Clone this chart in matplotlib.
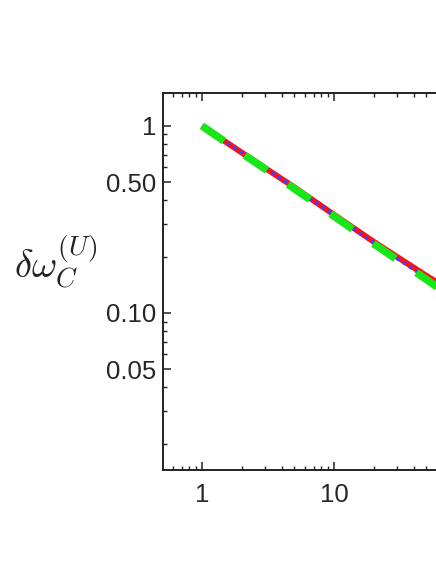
import numpy as np
import matplotlib
matplotlib.use('Agg')
import matplotlib.pyplot as plt
from matplotlib.ticker import FixedLocator, FixedFormatter, LogLocator, NullFormatter

plt.rcParams['font.family'] = ['Liberation Sans', 'DejaVu Sans']
plt.rcParams['mathtext.fontset'] = 'cm'

# values
x_vals = [1, 2, 5, 10, 20, 50, 60, 100]
red_vals = [1.0, 0.72, 0.47, 0.335, 0.24, 0.158, 0.146, 0.115]
blue_vals = [1.0, 0.72, 0.468, 0.333, 0.237, 0.154, 0.141, 0.11]
green_vals = [1.0, 0.715, 0.462, 0.329, 0.234, 0.151, 0.138, 0.108]

y_ticks = [1, 0.5, 0.1, 0.05]
y_labels = ['1', '0.50', '0.10', '0.05']
x_ticks = [1, 10, 100]
x_labels = ['1', '10', '']

fig = plt.figure(figsize=(4.36, 5.64), dpi=100)
# axes runs past the right edge, as in the cropped original
ax = fig.add_axes([163/436, 1 - 470/564, 343/436, 377/564])

ax.plot(x_vals, red_vals, color='#ff1010', lw=4.2, solid_capstyle='butt', zorder=2)
ax.plot(x_vals, blue_vals, color='#4b3cf5', lw=2.6, ls=(0, (1.0, 1.1)), zorder=3)
ax.plot(x_vals, green_vals, color='#19e619', lw=5.5, ls=(0, (3.5, 3.3)),
        dash_capstyle='butt', zorder=4)

ax.set_xscale('log')
ax.set_yscale('log')
ax.set_xlim(0.507, 200)
ax.set_ylim(0.01447, 1.50)

ax.yaxis.set_major_locator(FixedLocator(y_ticks))
ax.yaxis.set_major_formatter(FixedFormatter(y_labels))
ax.yaxis.set_minor_locator(FixedLocator([0.9, 0.8, 0.7, 0.6, 0.4, 0.3, 0.2,
                                         0.09, 0.08, 0.07, 0.06, 0.04, 0.03, 0.02]))
ax.yaxis.set_minor_formatter(NullFormatter())
ax.xaxis.set_major_locator(FixedLocator(x_ticks))
ax.xaxis.set_major_formatter(FixedFormatter(x_labels))
ax.xaxis.set_minor_locator(LogLocator(base=10, subs=np.arange(2, 10) * 1.0, numticks=20))
ax.xaxis.set_minor_formatter(NullFormatter())

ax.tick_params(which='both', direction='in', top=True, right=True, color='#222222')
ax.tick_params(which='major', length=6, width=1.1, labelsize=18.5, pad=5, labelcolor='#262626')
ax.tick_params(which='minor', length=3, width=1.0)
ax.tick_params(axis='x', which='major', pad=9)
for sp in ax.spines.values():
    sp.set_linewidth(1.4)
    sp.set_color('#222222')

fig.text(56/436, 1 - 262/564, r'$\delta\omega_C^{(U)}$', fontsize=28,
         ha='center', va='center', color='#222222')

fig.savefig('out.png', dpi=100)
